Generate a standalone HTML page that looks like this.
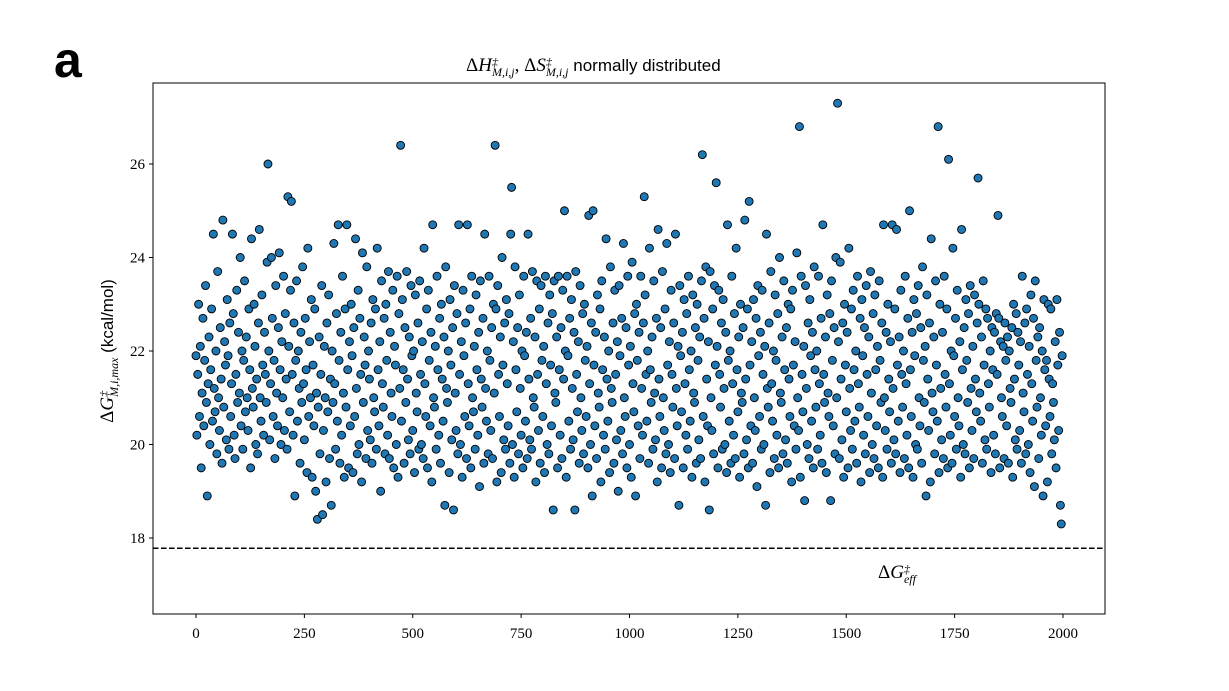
<!DOCTYPE html>
<html><head><meta charset="utf-8">
<style>
body{margin:0;background:#fff;width:1229px;height:691px;overflow:hidden;position:relative;font-family:"Liberation Serif",serif;}
.abs{position:absolute;}
.m{font-family:"Liberation Serif",serif;font-size:19px;}
.ss{display:inline-block;vertical-align:middle;line-height:10px;font-size:12px;font-style:italic;text-align:left}
</style></head><body>
<div class="abs" style="left:54px;top:30px;font-family:'Liberation Sans',sans-serif;font-weight:bold;font-size:50px;line-height:60px;">a</div>
<div class="abs" style="left:466px;top:55px;white-space:nowrap;font-size:19px;">
<span class="m">Δ<i>H</i></span><span class="ss">‡<br><span>M,i,j</span></span><span class="m">, Δ<i>S</i></span><span class="ss">‡<br>M,i,j</span>
<span style="font-family:'Liberation Sans',sans-serif;font-size:17px;"> normally distributed</span></div>
<div class="abs" style="left:-32px;top:340px;width:280px;text-align:center;transform:rotate(-90deg);white-space:nowrap;font-size:19px;">
<span class="m">Δ<i>G</i></span><span class="ss">‡<br>M,i,max</span> <span style="font-family:'Liberation Sans',sans-serif;font-size:17px;">(kcal/mol)</span></div>
<div class="abs" style="left:878px;top:562px;white-space:nowrap;">
<span class="m">Δ<i>G</i></span><span class="ss">‡<br>eff</span></div>
<svg id="chart" class="abs" style="left:0;top:0" width="1229" height="691"></svg>
<script>
const yTicks=[18,20,22,24,26];
const xTicks=[0,250,500,750,1000,1250,1500,1750,2000];
const gEff=17.78;
const xStep=2;
const yValues=[
21.9,20.2,21.5,23.0,20.6,22.1,19.5,21.1,22.7,20.4,21.8,23.4,20.9,18.9,21.3,22.3,20.0,21.6,22.9,20.5,
24.5,21.2,20.7,22.0,19.8,23.7,21.0,20.3,22.5,21.4,19.6,24.8,20.8,22.2,21.7,20.1,23.1,21.9,19.9,22.6,
20.6,21.3,24.5,22.8,20.2,19.7,21.5,23.3,20.9,22.4,21.1,24.0,20.4,22.0,19.9,21.8,23.5,20.7,22.3,21.0,
20.3,22.9,21.6,19.5,24.4,21.2,20.8,23.0,22.1,20.0,21.4,19.8,22.6,24.6,21.0,20.5,23.2,21.7,20.2,22.4,
21.5,20.9,23.9,26.0,22.0,20.1,21.3,24.0,22.7,20.6,21.8,19.7,23.4,21.1,20.4,22.5,24.1,21.6,20.0,22.2,
21.0,23.6,20.3,22.8,21.4,19.9,25.3,22.1,20.7,23.3,25.2,21.5,20.2,22.6,18.9,21.8,23.5,20.5,22.0,21.2,
19.6,22.4,20.9,23.8,21.3,20.1,22.7,21.6,19.4,24.2,20.6,22.2,21.0,23.1,19.3,21.7,20.4,22.9,19.0,21.1,
18.4,20.8,22.3,19.8,21.5,23.4,18.5,20.3,22.1,21.0,19.2,22.6,20.7,23.2,19.7,21.4,18.7,22.0,20.9,24.3,
21.3,19.9,22.8,20.5,24.7,21.8,19.6,22.4,20.2,23.6,21.1,19.3,22.9,20.8,24.7,21.6,19.5,22.2,20.4,23.0,
21.9,19.4,22.5,20.6,24.4,21.2,19.8,23.3,20.0,22.7,21.5,19.2,24.1,20.9,22.3,21.7,19.7,23.8,20.3,22.0,
21.4,20.1,22.6,19.6,23.1,21.0,20.7,22.9,19.9,24.2,21.6,20.4,22.2,19.0,23.5,21.3,20.8,22.7,19.8,23.0,
21.8,20.2,23.7,19.7,22.4,21.1,20.6,23.3,19.5,22.1,21.7,20.0,23.6,19.3,22.8,21.2,26.4,20.5,23.1,21.6,
19.6,22.5,20.9,23.7,21.4,20.1,22.3,19.8,23.4,21.9,20.3,22.0,19.4,23.2,21.1,20.7,22.6,19.9,23.5,21.5,
20.0,22.2,19.7,24.2,21.3,20.6,22.9,19.5,23.3,21.8,20.4,22.4,19.2,24.7,21.0,20.8,22.1,19.9,23.6,21.6,
20.2,22.7,19.6,23.0,21.4,20.5,22.3,18.7,23.8,21.2,20.9,22.0,19.4,23.1,21.7,20.1,22.5,18.6,23.4,21.1,
20.3,22.8,19.8,24.7,21.5,20.0,22.2,19.3,23.3,21.9,20.6,22.6,19.7,24.7,21.3,20.4,22.9,19.5,23.6,21.0,
20.7,22.1,19.9,23.2,21.6,20.2,22.4,19.1,23.5,21.4,20.8,22.7,19.6,24.5,21.2,20.5,22.0,19.8,23.6,21.8,
20.3,22.5,19.7,23.0,21.1,26.4,22.9,19.2,23.4,21.5,20.6,22.3,19.4,24.0,21.7,20.1,22.6,19.9,23.1,21.3,
20.4,22.8,19.6,24.5,25.5,20.0,22.2,19.3,23.8,21.6,20.7,22.5,19.8,23.2,21.2,20.2,22.0,19.5,23.6,21.9,
20.5,22.4,19.7,24.5,21.4,20.1,22.7,19.9,23.7,21.0,20.8,22.3,19.2,23.5,21.5,20.3,22.9,19.6,23.4,21.8,
20.6,22.1,19.4,23.6,21.3,20.0,22.6,19.8,23.2,21.7,20.4,22.8,18.6,23.5,21.1,20.9,22.3,19.5,23.6,21.6,
20.2,22.5,19.7,23.3,21.4,25.0,22.0,19.3,23.6,21.9,20.5,22.7,19.9,23.1,21.2,20.1,22.4,18.6,23.7,21.5,
20.7,22.2,19.6,23.4,21.0,20.3,22.8,19.8,23.0,21.8,20.6,22.1,19.5,24.9,21.3,20.0,22.6,18.9,25.0,21.7,
20.4,22.4,19.7,23.2,21.1,20.8,22.9,19.2,23.5,21.6,20.2,22.3,19.9,24.4,21.4,20.5,22.0,19.4,23.8,21.2,
20.9,22.6,19.6,23.3,21.5,20.1,22.2,19.0,23.4,21.9,20.3,22.7,19.8,24.3,21.0,20.6,22.5,19.5,23.6,21.7,
20.0,22.1,19.3,23.9,21.3,20.7,22.8,18.9,23.0,21.8,20.4,22.4,19.7,23.6,21.2,20.2,22.6,25.3,23.2,21.5,
20.5,22.0,19.6,24.2,21.6,20.9,22.3,19.9,23.5,21.1,20.1,22.7,19.2,24.6,21.4,20.6,22.5,19.5,23.7,21.0,
20.3,22.9,19.8,24.3,21.7,20.0,22.2,19.4,23.3,21.5,20.8,22.6,19.7,24.5,21.2,20.4,22.1,18.7,23.4,21.9,
20.7,22.4,19.5,23.1,21.3,20.2,22.8,19.9,23.6,21.6,20.5,22.0,19.3,23.2,21.1,20.9,22.5,19.6,23.0,21.8,
20.1,22.3,19.7,23.5,26.2,20.6,22.7,19.2,23.8,21.4,20.4,22.2,18.6,23.7,21.0,20.3,22.9,19.8,23.4,21.7,
25.6,22.1,19.5,23.3,21.5,20.8,22.6,19.9,23.1,21.2,20.0,22.4,19.4,24.7,21.8,20.5,22.0,19.6,23.6,21.3,
20.2,22.8,19.7,24.2,21.6,20.7,22.3,19.3,23.0,21.1,20.9,22.5,19.8,24.8,21.4,20.1,22.9,19.5,25.2,21.7,
20.4,22.2,19.6,23.1,21.0,20.3,22.7,19.1,23.4,21.9,20.6,22.4,19.9,23.3,21.5,20.0,22.1,18.7,24.5,21.2,
20.8,22.6,19.4,23.7,21.3,20.5,22.0,19.7,23.2,21.8,20.2,22.8,19.5,24.0,21.1,20.9,22.3,19.8,23.5,21.6,
20.1,22.5,19.6,23.0,21.4,20.6,22.9,19.2,23.3,21.7,20.4,22.2,19.9,24.1,21.0,20.3,26.8,19.3,23.6,21.5,
20.7,22.1,18.8,23.4,21.2,20.0,22.6,19.7,23.1,21.9,20.5,22.4,19.5,23.8,21.6,20.8,22.0,19.9,23.6,21.3,
20.2,22.7,19.6,24.7,21.5,20.9,22.3,19.4,23.2,21.1,20.6,22.8,18.8,23.5,21.8,20.4,22.5,19.8,24.0,21.0,
27.3,22.2,19.7,23.9,21.4,20.1,22.6,19.3,23.0,21.7,20.7,22.4,19.5,24.2,21.2,20.3,22.9,19.9,23.3,21.6,
20.5,22.0,19.6,23.6,21.3,20.8,22.7,19.2,23.1,21.9,20.2,22.5,19.8,23.4,21.5,20.6,22.3,19.4,23.7,21.1,
20.0,22.8,19.7,23.2,21.6,20.4,22.1,19.5,23.5,21.8,20.9,22.6,19.3,24.7,21.0,20.3,22.4,19.9,23.0,21.4,
20.7,22.2,19.6,24.7,21.2,20.1,22.9,19.8,24.6,21.7,20.5,22.3,19.4,23.3,21.5,20.8,22.0,19.7,23.6,21.3,
20.2,22.7,19.5,25.0,21.6,20.6,22.4,19.3,23.1,21.9,20.0,22.8,19.9,23.4,21.0,20.4,22.5,19.6,23.8,21.8,
20.9,22.1,18.9,23.2,21.4,20.3,22.6,19.2,24.4,21.1,20.7,22.3,19.8,23.5,21.7,20.5,26.8,19.4,23.0,21.2,
20.1,22.4,19.7,23.6,21.5,20.8,22.9,19.5,26.1,21.3,20.2,22.0,19.6,24.2,21.9,20.6,22.7,19.9,23.3,21.0,
20.4,22.2,19.3,24.6,21.6,20.0,22.5,19.8,23.1,21.8,20.9,22.8,19.5,23.4,21.2,20.3,22.1,19.7,23.2,21.4,
20.7,22.6,25.7,23.0,21.1,20.5,22.3,19.6,23.5,21.7,20.1,22.9,19.9,22.7,21.3,20.8,22.0,19.4,22.5,21.6,
20.2,22.4,19.8,22.8,21.5,24.9,22.7,19.5,22.2,21.0,20.6,22.1,19.7,22.6,21.8,20.4,22.3,19.6,22.0,21.2,
20.9,22.5,19.3,23.0,21.4,20.1,22.8,19.9,22.4,21.7,20.3,22.2,19.6,23.6,21.1,20.7,22.6,19.8,22.9,21.5,
20.0,22.1,19.4,23.2,21.3,20.5,22.7,19.1,23.5,21.8,20.8,22.3,19.7,22.5,21.0,20.2,22.0,18.9,23.1,21.6,
20.4,21.8,19.2,23.0,21.4,20.6,22.9,19.8,21.3,20.9,20.1,22.2,19.5,23.1,21.7,20.3,22.4,18.7,18.3,21.9];
const NS="http://www.w3.org/2000/svg";
const svg=document.getElementById('chart');
const L=153,R=1105,T=83,B=614;
const X=v=>196+(v/2000)*867;
const Y=v=>538-(v-18)*46.75;
function mk(t,a){const e=document.createElementNS(NS,t);for(const k in a)e.setAttribute(k,a[k]);svg.appendChild(e);return e;}
yValues.forEach((v,i)=>{
  const c=mk('circle',{cx:X(i*xStep),cy:Y(v),r:4.0,fill:'#1f77b4',stroke:'#000','stroke-width':0.9});
  
  
});
const dl=mk('line',{x1:L,x2:R,y1:Y(gEff),y2:Y(gEff),stroke:'#000','stroke-width':1.5,'stroke-dasharray':'5.5,2.5'});


const fr=mk('rect',{x:L,y:T,width:R-L,height:B-T,fill:'none',stroke:'#000','stroke-width':1});


xTicks.forEach(t=>{
  mk('line',{x1:X(t),x2:X(t),y1:B,y2:B+4,stroke:'#000'});
  const tx=mk('text',{x:X(t),y:B+24,'text-anchor':'middle','font-family':'Liberation Serif,serif','font-size':15});
  tx.textContent=t;
  
  
});
yTicks.forEach(t=>{
  mk('line',{x1:L-4,x2:L,y1:Y(t),y2:Y(t),stroke:'#000'});
  const tx=mk('text',{x:L-8,y:Y(t)+5,'text-anchor':'end','font-family':'Liberation Serif,serif','font-size':15});
  tx.textContent=t;
  
  
});
</script>
</body></html>
